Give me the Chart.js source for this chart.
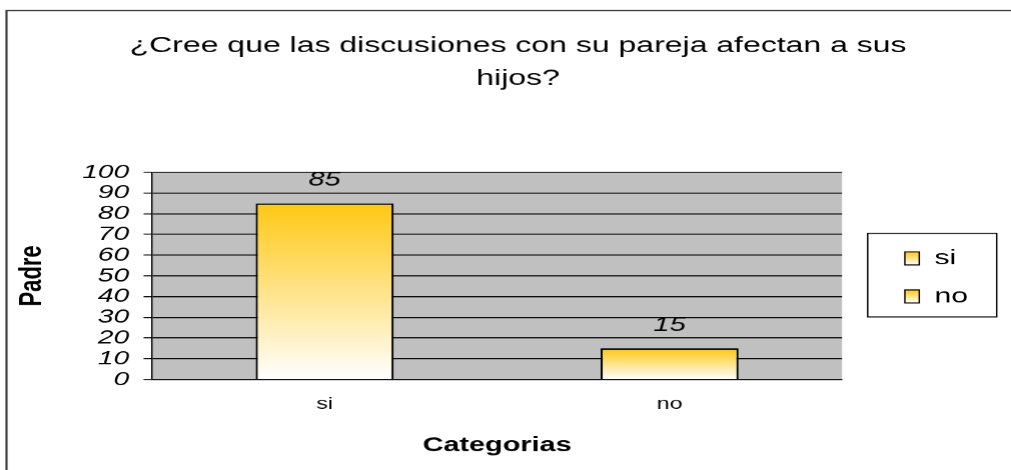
<!DOCTYPE html>
<html lang="es">
<head>
  <meta charset="UTF-8">
  <title>Padre - discusiones de pareja</title>
  <style>
    html, body {
      margin: 0;
      padding: 0;
      background: #fff;
      overflow: hidden;
    }
    /* the chart is laid out narrow and then stretched sideways */
    #wrap {
      position: relative;
      width: 702px;
      height: 470px;
      transform: scaleX(1.4402);
      transform-origin: 0 0;
    }
  </style>
  <script src="https://cdn.jsdelivr.net/npm/chart.js"></script>
</head>
<body>
  <div id="wrap"><canvas id="chart"></canvas></div>

  <script>
    const titleLines = ['¿Cree que las discusiones con su pareja afectan a sus', 'hijos?'];
    const categories = ['si', 'no'];
    const values = [85, 15];
    const yTicks = [0, 10, 20, 30, 40, 50, 60, 70, 80, 90, 100];

    const GOLD = '#ffc814';

    Chart.defaults.font.family = '"Liberation Sans", Arial, sans-serif';
    Chart.defaults.color = '#000';

    // vertical fade from gold at the top of each bar to white at the axis
    function barGradient(context) {
      const chart = context.chart;
      if (!chart.chartArea || context.raw === undefined) return GOLD;
      const y = chart.scales.y;
      const g = chart.ctx.createLinearGradient(0, y.getPixelForValue(context.raw), 0, y.getPixelForValue(0));
      g.addColorStop(0, GOLD);
      g.addColorStop(1, '#ffffff');
      return g;
    }

    // outer frame and grey plot area
    const backdrop = {
      id: 'backdrop',
      beforeDraw(chart) {
        const { ctx, chartArea: a } = chart;
        ctx.save();
        ctx.strokeStyle = '#3a3a3a';
        ctx.lineWidth = 1.5;
        ctx.strokeRect(4.5, 10.5, chart.width + 20, chart.height + 20);
        ctx.fillStyle = '#c0c0c0';
        ctx.fillRect(a.left, a.top, a.right - a.left, a.bottom - a.top);
        ctx.restore();
      }
    };

    // moves legend and title into place, fills legend swatches, frames legend
    const legendBox = {
      id: 'legendBox',
      afterLayout(chart) {
        const lg = chart.legend;
        const a = chart.chartArea;
        const w = lg.width;
        lg.left = a.right + 26.6;
        lg.right = lg.left + w;
        lg.top = a.top + 1.5;
        lg.bottom = a.bottom + 1.5;
        lg.height = lg.bottom - lg.top;

        const tb = chart.titleBlock;
        const tw = tb.right - tb.left;
        tb.left = 359.4 - tw / 2;
        tb.right = tb.left + tw;
      },
      beforeDraw(chart) {
        const lg = chart.legend;
        lg.legendItems.forEach((item, i) => {
          const hb = lg.legendHitBoxes[i];
          if (!hb) return;
          const y0 = hb.top + 4;
          const g = chart.ctx.createLinearGradient(0, y0, 0, y0 + 13);
          g.addColorStop(0, GOLD);
          g.addColorStop(1, '#ffffff');
          item.fillStyle = g;
        });
      },
      afterDraw(chart) {
        const hbs = chart.legend.legendHitBoxes;
        if (!hbs || !hbs.length) return;
        const first = hbs[0];
        const last = hbs[hbs.length - 1];
        const top = first.top - 14.5;
        const bottom = last.top + last.height + 10;
        const ctx = chart.ctx;
        ctx.save();
        ctx.strokeStyle = '#000';
        ctx.lineWidth = 1;
        ctx.strokeRect(first.left - 25.8, top, 89.5, bottom - top);
        ctx.restore();
      }
    };

    // value written above each bar
    const valueLabels = {
      id: 'valueLabels',
      afterDatasetsDraw(chart) {
        const ctx = chart.ctx;
        const meta = chart.getDatasetMeta(0);
        ctx.save();
        ctx.font = 'italic 20px "Liberation Sans", Arial, sans-serif';
        ctx.fillStyle = '#000';
        ctx.textAlign = 'center';
        ctx.textBaseline = 'middle';
        meta.data.forEach((bar, i) => {
          ctx.fillText(String(values[i]), bar.x, bar.y - 23);
        });
        ctx.restore();
      }
    };

    new Chart(document.getElementById('chart'), {
      type: 'bar',
      data: {
        labels: categories,
        datasets: [{
          label: 'Padre',
          data: values,
          backgroundColor: barGradient,
          borderColor: '#000',
          borderWidth: 1.5,
          barPercentage: 0.4,
          categoryPercentage: 1
        }]
      },
      options: {
        responsive: true,
        maintainAspectRatio: false,
        devicePixelRatio: 1.44,
        animation: false,
        layout: { padding: { left: 8, right: 47, top: 10, bottom: 0 } },
        plugins: {
          title: {
            display: true,
            text: titleLines,
            color: '#000',
            font: { size: 22.2, weight: 'normal', lineHeight: 1.5 },
            padding: { top: 19, bottom: 76.5 }
          },
          legend: {
            position: 'right',
            labels: {
              boxWidth: 10,
              boxHeight: 13,
              padding: 17,
              color: '#000',
              font: { size: 21 },
              generateLabels: () => categories.map((c, i) => ({
                text: c,
                fillStyle: GOLD,
                strokeStyle: '#000',
                lineWidth: 1,
                fontColor: '#000',
                hidden: false,
                index: i,
                datasetIndex: 0
              }))
            }
          },
          tooltip: { enabled: false }
        },
        scales: {
          x: {
            grid: { display: false, drawTicks: false },
            border: { display: true, color: '#000', width: 1 },
            ticks: { color: '#000', font: { size: 16 }, padding: 15 },
            title: {
              display: true,
              text: 'Categorias',
              color: '#000',
              font: { size: 20, weight: 'bold' },
              padding: { top: 0, bottom: 13 }
            },
            afterFit: s => { s.height = 91; }
          },
          y: {
            min: 0,
            max: 100,
            afterBuildTicks: s => { s.ticks = yTicks.map(v => ({ value: v })); },
            grid: { color: '#000', lineWidth: 1, tickLength: 6 },
            border: { color: '#000', width: 1 },
            ticks: {
              color: '#000',
              autoSkip: false,
              padding: 10,
              font: { size: 19.5, style: 'italic', lineHeight: 1 }
            },
            title: {
              display: true,
              text: 'Padre',
              color: '#000',
              font: { size: 22, weight: 'bold' },
              padding: { top: 1, bottom: 0 }
            },
            afterFit: s => { s.width = 97.6; }
          }
        }
      },
      plugins: [backdrop, legendBox, valueLabels]
    });
  </script>
</body>
</html>
